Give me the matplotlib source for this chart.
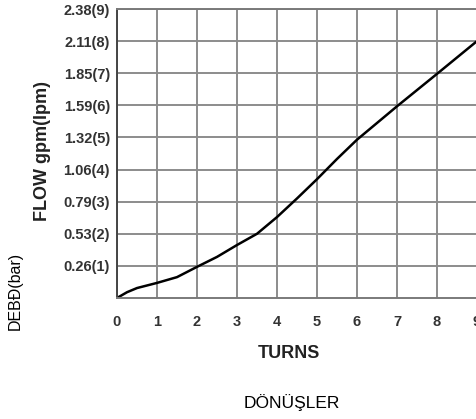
import matplotlib.pyplot as plt

plt.rcParams['font.family'] = ['Liberation Sans', 'DejaVu Sans']

# Datos
turns = [0, 0.25, 0.5, 1, 1.5, 2, 2.5, 3, 3.5, 4, 4.5, 5, 5.5, 6, 7, 8, 9]
flow = [0, 0.18, 0.31, 0.47, 0.65, 0.97, 1.28, 1.65, 2.0, 2.52, 3.1, 3.7, 4.33, 4.93, 5.97, 6.98, 8.0]

x_ticks = [0, 1, 2, 3, 4, 5, 6, 7, 8, 9]
y_ticks = [1, 2, 3, 4, 5, 6, 7, 8, 9]
y_labels = ["0.26(1)", "0.53(2)", "0.79(3)", "1.06(4)", "1.32(5)",
            "1.59(6)", "1.85(7)", "2.11(8)", "2.38(9)"]

fig = plt.figure(figsize=(4.77, 4.19), dpi=100)
ax = fig.add_axes([117/477, 1 - 298/419, 1 - 117/477, 289/419])

ax.plot(turns, flow, color="black", linewidth=1.8)

ax.set_xlim(0, 9)
ax.set_ylim(0, 9)
ax.set_xticks(x_ticks)
ax.set_yticks(y_ticks)
ax.set_yticklabels(y_labels)
ax.tick_params(length=0, labelsize=10.5, labelcolor="#333333", pad=5)
ax.tick_params(axis="x", pad=12)
for lab in ax.get_xticklabels() + ax.get_yticklabels():
    lab.set_fontweight("bold")

ax.grid(True, color="#8c8c8c", linewidth=1.4)
for s in ax.spines.values():
    s.set_color("#7a7a7a")
    s.set_linewidth(1.4)
ax.spines["left"].set_color("#444444")

fig.text(43/477, 1 - 151/419, "FLOW gpm(lpm)", rotation=90, ha="center", va="center",
         fontsize=13, fontweight="bold", color="#222222")
fig.text(15/477, 1 - 291/419, "DEBĐ(bar)", rotation=90, ha="center", va="center",
         fontsize=11.5, color="black")
fig.text(289/477, 1 - 353/419, "TURNS", ha="center", va="center",
         fontsize=13, fontweight="bold", color="#222222")
fig.text(292/477, 1 - 403/419, "DÖNÜŞLER", ha="center", va="center",
         fontsize=12.5, color="black")

fig.savefig("out.png", dpi=100)
